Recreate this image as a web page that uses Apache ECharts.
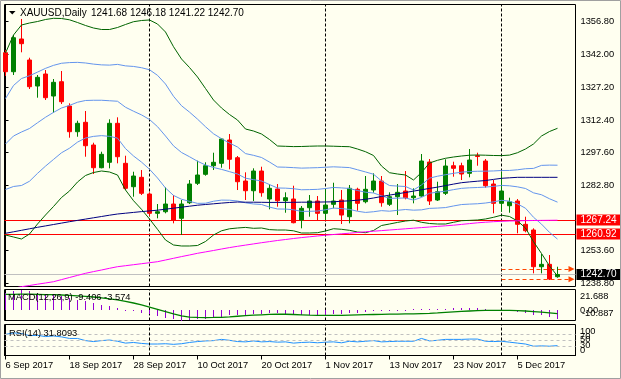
<!DOCTYPE html>
<html><head><meta charset="utf-8">
<script src="https://cdn.jsdelivr.net/npm/echarts@6/dist/echarts.min.js"></script>
<style>html,body{margin:0;padding:0;background:#FFFFF0}#c{width:621px;height:379px}</style>
</head><body><div id="c"></div><script>
const symbolName = 'XAUUSD,Daily';
const dates = ['6 Sep 2017','7 Sep 2017','8 Sep 2017','11 Sep 2017','12 Sep 2017','13 Sep 2017','14 Sep 2017','15 Sep 2017','18 Sep 2017','19 Sep 2017','20 Sep 2017','21 Sep 2017','22 Sep 2017','25 Sep 2017','26 Sep 2017','27 Sep 2017','28 Sep 2017','29 Sep 2017',
'2 Oct 2017','3 Oct 2017','4 Oct 2017','5 Oct 2017','6 Oct 2017','9 Oct 2017','10 Oct 2017','11 Oct 2017','12 Oct 2017','13 Oct 2017','16 Oct 2017','17 Oct 2017','18 Oct 2017','19 Oct 2017','20 Oct 2017','23 Oct 2017','24 Oct 2017','25 Oct 2017','26 Oct 2017','27 Oct 2017','30 Oct 2017','31 Oct 2017',
'1 Nov 2017','2 Nov 2017','3 Nov 2017','6 Nov 2017','7 Nov 2017','8 Nov 2017','9 Nov 2017','10 Nov 2017','13 Nov 2017','14 Nov 2017','15 Nov 2017','16 Nov 2017','17 Nov 2017','20 Nov 2017','21 Nov 2017','22 Nov 2017','23 Nov 2017','24 Nov 2017','27 Nov 2017','28 Nov 2017','29 Nov 2017','30 Nov 2017',
'1 Dec 2017','4 Dec 2017','5 Dec 2017','6 Dec 2017','7 Dec 2017','8 Dec 2017','11 Dec 2017','12 Dec 2017'];
const open = [1342.73,1334.15,1348.91,1339.43,1327.70,1333.12,1323.19,1329.64,1318.68,1307.09,
1311.33,1301.09,1290.85,1293.29,1310.88,1292.83,1282.28,1286.52,1278.99,1270.28,
1271.00,1274.47,1268.02,1275.06,1283.81,1287.87,1291.75,1292.83,1303.34,1295.36,
1284.85,1280.47,1289.36,1276.73,1281.24,1275.96,1276.73,1267.26,1272.80,1275.83,
1270.28,1274.34,1276.28,1268.75,1281.11,1275.51,1280.79,1284.85,1274.34,1277.77,
1280.34,1277.32,1278.08,1293.42,1276.28,1279.30,1291.75,1291.75,1288.32,1296.26,
1293.87,1283.50,1274.79,1273.71,1275.83,1265.32,1262.75,1246.19,1247.27,1241.68];
const high = [1343.94,1350.71,1357.93,1340.47,1332.67,1334.92,1330.86,1334.47,1319.90,1312.05,
1316.43,1302.13,1298.07,1312.68,1313.58,1296.26,1289.04,1289.81,1279.75,1274.47,
1282.01,1278.53,1276.28,1285.30,1294.01,1293.29,1297.62,1304.11,1306.05,1296.13,
1288.77,1290.58,1291.30,1283.36,1283.50,1279.75,1282.73,1273.57,1278.53,1278.08,
1281.11,1284.08,1280.79,1283.05,1281.83,1287.11,1288.32,1287.11,1279.75,1283.50,
1289.36,1281.56,1297.03,1294.77,1284.53,1294.64,1293.56,1293.10,1299.28,1297.62,
1294.77,1285.30,1289.04,1277.32,1276.73,1268.75,1263.51,1251.92,1251.47,1246.18];
const low = [1332.22,1332.67,1342.91,1326.35,1322.43,1321.39,1315.66,1319.58,1304.38,1304.83,
1295.81,1288.01,1290.58,1290.58,1292.83,1280.79,1277.77,1278.53,1269.06,1268.02,
1270.28,1265.77,1260.49,1274.47,1283.05,1287.24,1289.81,1290.85,1290.13,1280.79,
1276.28,1275.83,1277.77,1272.08,1273.26,1270.55,1265.77,1263.51,1268.75,1267.26,
1267.26,1272.53,1265.45,1265.77,1271.45,1274.79,1279.57,1273.26,1273.57,1269.51,
1276.59,1274.79,1277.77,1274.02,1275.83,1278.53,1286.79,1285.30,1286.52,1291.75,
1281.83,1270.28,1271.00,1270.55,1261.26,1261.71,1243.21,1243.21,1240.19,1241.22];
const close = [1334.15,1349.49,1346.79,1327.39,1331.63,1322.43,1329.37,1320.62,1307.09,1310.88,
1300.77,1290.85,1296.89,1310.88,1295.81,1281.56,1287.11,1279.30,1270.28,1271.00,
1274.47,1267.26,1274.47,1283.50,1287.56,1291.75,1293.29,1303.80,1294.64,1284.53,
1280.47,1289.36,1279.57,1281.56,1275.96,1277.32,1266.04,1272.53,1275.83,1270.28,
1274.02,1275.83,1269.51,1281.56,1274.79,1281.11,1284.85,1275.06,1277.77,1279.75,
1277.32,1278.08,1293.87,1275.83,1280.02,1291.62,1290.58,1288.01,1294.32,1295.90,
1282.73,1274.79,1280.34,1275.51,1265.32,1262.43,1246.19,1247.27,1240.64,1242.70];
const bbUpper2 = [1342.59,1350.71,1355.22,1356.12,1356.80,1357.70,1358.24,1358.15,1357.57,1356.35,
1355.00,1353.87,1353.19,1353.19,1354.09,1355.45,1356.71,1357.25,1357.48,1355.67,
1352.06,1345.43,1339.89,1336.05,1331.77,1326.58,1321.39,1317.78,1314.85,1312.37,
1308.31,1307.41,1306.06,1303.57,1300.64,1300.51,1300.37,1300.42,1300.55,1300.64,
1300.64,1300.55,1300.42,1300.33,1299.29,1298.07,1296.36,1291.62,1288.60,1288.01,
1287.56,1285.31,1288.69,1292.97,1294.19,1295.10,1295.68,1296.13,1296.49,1296.58,
1296.49,1296.36,1296.31,1296.54,1297.62,1299.29,1301.55,1305.15,1307.18,1308.63];
const bbLower2 = [1260.50,1259.60,1258.69,1260.95,1265.46,1269.52,1273.35,1277.41,1280.35,1284.40,
1287.34,1288.69,1289.37,1288.92,1287.56,1280.80,1275.97,1272.09,1267.72,1263.07,
1258.24,1255.99,1255.54,1255.54,1255.76,1257.57,1260.50,1262.39,1263.30,1263.66,
1263.93,1263.52,1263.66,1262.93,1262.75,1262.75,1262.39,1261.40,1261.40,1261.54,
1262.30,1263.34,1263.07,1262.62,1261.85,1261.54,1262.53,1264.78,1265.46,1266.18,
1266.81,1267.17,1266.23,1265.69,1265.46,1265.46,1266.23,1266.95,1267.09,1267.26,
1267.72,1268.48,1269.43,1268.84,1266.81,1263.66,1257.48,1252.15,1246.52,1242.01];
const bbUpper1 = [1322.07,1327.94,1331.09,1332.33,1333.97,1335.66,1337.02,1337.97,1338.27,1338.37,
1338.09,1337.58,1337.24,1337.13,1337.46,1336.79,1336.53,1335.96,1335.04,1332.52,
1328.61,1323.07,1318.81,1315.93,1312.77,1309.33,1306.17,1303.94,1301.97,1300.20,
1297.22,1296.44,1295.46,1293.41,1291.17,1291.07,1290.88,1290.67,1290.77,1290.87,
1291.06,1291.25,1291.09,1290.91,1289.93,1288.94,1287.91,1284.91,1282.82,1282.56,
1282.38,1280.78,1283.08,1286.15,1287.01,1287.69,1288.32,1288.84,1289.14,1289.25,
1289.30,1289.39,1289.59,1289.62,1289.92,1290.39,1290.54,1291.90,1292.02,1291.98];
const bbMid = [1301.55,1305.16,1306.96,1308.54,1311.13,1313.61,1315.80,1317.78,1318.96,1320.38,
1321.17,1321.28,1321.28,1321.06,1320.83,1318.13,1316.34,1314.67,1312.60,1309.37,
1305.15,1300.71,1297.72,1295.80,1293.77,1292.08,1290.95,1290.09,1289.08,1288.02,
1286.12,1285.47,1284.86,1283.25,1281.70,1281.63,1281.38,1280.91,1280.98,1281.09,
1281.47,1281.95,1281.75,1281.48,1280.57,1279.81,1279.45,1278.20,1277.03,1277.10,
1277.19,1276.24,1277.46,1279.33,1279.83,1280.28,1280.96,1281.54,1281.79,1281.92,
1282.11,1282.42,1282.87,1282.69,1282.22,1281.48,1279.52,1278.65,1276.85,1275.32];
const bbLower1 = [1281.03,1282.38,1282.83,1284.75,1288.29,1291.56,1294.58,1297.59,1299.65,1302.39,
1304.25,1304.98,1305.32,1304.99,1304.20,1299.47,1296.15,1293.38,1290.16,1286.22,
1281.69,1278.35,1276.63,1275.67,1274.77,1274.83,1275.73,1276.24,1276.19,1275.84,
1275.02,1274.50,1274.26,1273.09,1272.23,1272.19,1271.88,1271.15,1271.19,1271.31,
1271.88,1272.65,1272.41,1272.05,1271.21,1270.68,1270.99,1271.49,1271.24,1271.64,
1272.00,1271.70,1271.84,1272.51,1272.65,1272.87,1273.60,1274.24,1274.44,1274.59,
1274.92,1275.45,1276.15,1275.76,1274.52,1272.57,1268.50,1265.40,1261.68,1258.66];
const maSlow = [1261.27,1261.94,1262.62,1263.30,1263.97,1264.60,1265.23,1265.87,1266.50,1267.09,
1267.67,1268.26,1268.84,1269.43,1269.97,1270.33,1270.69,1271.05,1271.37,1271.69,
1272.14,1272.59,1273.04,1273.49,1273.94,1274.26,1274.57,1274.89,1275.16,1275.38,
1275.30,1275.30,1275.25,1275.20,1275.20,1275.20,1275.25,1275.30,1275.30,1275.35,
1275.40,1275.47,1275.74,1275.92,1276.20,1276.60,1277.19,1277.86,1278.50,1279.08,
1279.67,1280.30,1280.89,1281.52,1282.10,1282.78,1283.46,1284.09,1284.45,1284.77,
1285.08,1285.58,1286.07,1286.30,1286.52,1286.52,1286.52,1286.52,1286.52,1286.52];
const maLong = [1235.69,1236.46,1237.18,1237.72,1238.31,1238.85,1239.43,1240.38,1241.33,1242.28,
1243.22,1243.99,1244.71,1245.48,1246.20,1246.65,1247.10,1247.55,1248.00,1248.46,
1249.22,1249.99,1250.76,1251.48,1252.24,1252.88,1253.51,1254.18,1254.82,1255.40,
1255.94,1256.48,1257.02,1257.52,1258.02,1258.47,1258.92,1259.33,1259.69,1260.05,
1260.41,1260.72,1261.04,1261.31,1261.63,1261.94,1262.21,1262.48,1262.75,1263.02,
1263.30,1263.57,1263.84,1264.11,1264.38,1264.65,1264.92,1265.28,1265.64,1266.00,
1266.27,1266.50,1266.68,1266.81,1266.90,1266.99,1267.04,1267.09,1267.13,1267.17];
const macdMain = [18.0,20.0,21.688,20.0,18.5,17.0,15.5,14.5,12.5,11.0,
9.5,7.5,5.5,4.5,2.5,0.5,-0.8,-2.5,-4.5,-6.5,
-8.0,-9.5,-10.887,-10.5,-9.8,-9.0,-8.2,-6.8,-5.6,-5.0,
-4.6,-3.6,-3.6,-3.4,-3.5,-3.6,-4.5,-4.6,-4.6,-4.9,
-4.8,-4.2,-4.4,-3.0,-2.6,-2.0,-1.4,-1.4,-1.0,0.3,
0.6,0.8,1.2,0.8,1.0,1.5,1.8,1.8,2.0,2.2,
1.6,0.6,0.5,0.1,-2.0,-3.4,-4.6,-5.3,-7.6,-9.406];
const macdSignal = [16.5,16.6,16.8,16.8,16.6,16.4,16.2,15.9,15.5,15.0,
14.5,13.8,12.9,11.9,10.8,9.2,7.5,5.6,3.2,0.8,
-1.6,-4.0,-6.0,-7.3,-7.7,-7.8,-7.7,-7.5,-7.0,-6.4,
-5.8,-5.3,-4.9,-4.5,-4.3,-4.3,-4.6,-4.9,-5.2,-5.4,
-5.6,-5.5,-5.4,-5.2,-5.0,-4.8,-4.6,-4.4,-4.2,-4.1,
-4.0,-3.9,-3.6,-3.3,-2.9,-2.4,-1.9,-1.4,-0.9,-0.5,
-0.3,-0.3,-0.3,-0.3,-0.5,-0.9,-1.5,-2.1,-2.8,-3.574];
const rsi = [68,73,71,64,65,61,63,60,55,55,
48,45,48,50,46,40,42,39,37,37,
38,36,38,42,45,47,48,52,49,45,
44,47,44,45,43,44,40,42,43,41,
43,44,41,46,44,46,48,44,45,46,
46,46,55,47,49,52,52,52,53,53,
46,45,46,43,40,37,30,31,30,31.8093];
const priceTickValues = [1238.80,1253.60,1282.80,1297.60,1312.40,1327.20,1342.00,1356.80];
const dateTickIndex = [0,8,16,24,32,40,48,56,64];
const monthSeparators = [18,40,62];
const hLevels = [1267.24,1260.92];
const bidPrice = 1242.70;
const arrowLevels = [1245.20,1240.50];
const arrowFrom = 62;
const macdRange = [-10.887,21.688];
const macdLabels = ['21.688','0.00','-10.887'];
const rsiLevels = [30,50,70];
const rsiLabels = ['100','70','50','30','0'];

const FONT = 'Tahoma,"Liberation Sans",Arial,sans-serif';
const FS = 9.3;
const X_MIN = -0.125, X_MAX = 71.25;
const Y_MIN = 1237.27, Y_MAX = 1364.47;
const pts = a => a.map((v,i)=>[i,v]);
const last = open.length-1;

function lineSeries(data,color,name){
  return {type:'line',name,xAxisIndex:0,yAxisIndex:0,data:pts(data),showSymbol:false,symbol:'none',
    lineStyle:{color,width:1},z:3,silent:true,clip:true};
}

const chart = echarts.init(document.getElementById('c'));
const option = {
  animation:false,
  backgroundColor:'#FFFFF0',
  textStyle:{fontFamily:FONT},
  grid:[
    {left:4.5,top:4.5,width:571,height:282,show:true,borderColor:'#000',borderWidth:1,backgroundColor:'#FFFFF0'},
    {left:4.5,top:289.5,width:571,height:31,show:true,borderColor:'#000',borderWidth:1},
    {left:4.5,top:324.5,width:571,height:31,show:true,borderColor:'#000',borderWidth:1}
  ],
  xAxis:[0,1,2].map(g=>({type:'value',gridIndex:g,min:X_MIN,max:X_MAX,show:g===2,
    splitLine:{show:false},
    axisLine:{show:true,lineStyle:{color:'#000'}},
    axisTick:{show:true,customValues:dateTickIndex,length:4,lineStyle:{color:'#000'}},
    axisLabel:{show:true,customValues:dateTickIndex,formatter:v=>dates[Math.round(v)],align:'left',
      margin:5,color:'#000',fontSize:FS,fontFamily:FONT}})),
  yAxis:[
    {type:'value',gridIndex:0,position:'right',min:Y_MIN,max:Y_MAX,splitLine:{show:false},
      axisLine:{show:true,lineStyle:{color:'#000'}},
      axisTick:{show:true,customValues:priceTickValues,length:3,lineStyle:{color:'#000'}},
      axisLabel:{customValues:priceTickValues,formatter:v=>v.toFixed(2),color:'#000',fontSize:FS,fontFamily:FONT,margin:5}},
    {type:'value',gridIndex:1,position:'right',min:macdRange[0],max:macdRange[1],splitLine:{show:false},
      axisLine:{show:true,lineStyle:{color:'#000'}},axisTick:{show:false},axisLabel:{show:false}},
    {type:'value',gridIndex:2,position:'right',min:0,max:100,splitLine:{show:false},
      axisLine:{show:true,lineStyle:{color:'#000'}},axisTick:{show:false},axisLabel:{show:false}}
  ],
  series:[
    {type:'candlestick',xAxisIndex:0,yAxisIndex:0,
      data:open.map((o,i)=>[i,o,close[i],low[i],high[i]]),
      encode:{x:0,y:[1,2,3,4]},barWidth:4,z:2,silent:true,
      itemStyle:{color:'#008000',color0:'#FF0000',borderColor:'#008000',borderColor0:'#FF0000',borderWidth:1},
      markLine:{symbol:['none','none'],silent:true,z:1,
        data:[
          ...monthSeparators.map(v=>({xAxis:v,lineStyle:{color:'#000',type:[3,2],width:1},label:{show:false}})),
          {yAxis:bidPrice,lineStyle:{color:'#C0C0C0',type:'solid',width:1},
            label:{show:true,position:'end',distance:1,formatter:p=>p.value.toFixed(2),color:'#fff',backgroundColor:'#000',padding:[1,4,0,4],fontSize:FS+0.7,fontFamily:FONT}},
          ...hLevels.map(v=>({yAxis:v,lineStyle:{color:'#FF0000',type:'solid',width:1},
            label:{show:true,position:'end',distance:1,formatter:p=>p.value.toFixed(2),color:'#fff',backgroundColor:'#FF0000',padding:[1,4,0,4],fontSize:FS+0.7,fontFamily:FONT}})),
          ...arrowLevels.map(v=>[
            {coord:[arrowFrom,v],symbol:'none'},
            {coord:[70.75,v],symbol:'triangle',symbolSize:[6,6],symbolRotate:-90,
              lineStyle:{color:'#FF4500',type:[4,3],width:1},itemStyle:{color:'#FF4500'},label:{show:false}}
          ])
        ]}
    },
    lineSeries(bbUpper2,'#006400','bbU2'),
    lineSeries(bbLower2,'#006400','bbL2'),
    lineSeries(bbUpper1,'#6495ED','bbU1'),
    lineSeries(bbMid,'#6495ED','bbM'),
    lineSeries(bbLower1,'#6495ED','bbL1'),
    lineSeries(maSlow,'#000080','ma1'),
    lineSeries(maLong,'#FF00FF','ma2'),
    {type:'custom',xAxisIndex:1,yAxisIndex:1,data:pts(macdMain),silent:true,clip:false,z:5,
      encode:{x:0,y:1},
      renderItem:(params,api)=>{
        const p0 = api.coord([api.value(0),0]), p1 = api.coord([api.value(0),api.value(1)]);
        const px = Math.round(p0[0]-0.5);
        const y0 = Math.round(Math.min(p0[1],p1[1])), y1 = Math.round(Math.max(p0[1],p1[1]));
        return {type:'rect',shape:{x:px,y:y0,width:1,height:Math.max(1,y1-y0)},
          style:{fill:'#9400D3'}};
      },
      markLine:{symbol:['none','none'],silent:true,label:{show:false},
        data:monthSeparators.map(v=>({xAxis:v,lineStyle:{color:'#000',type:[3,2],width:1}}))}},
    {type:'line',xAxisIndex:1,yAxisIndex:1,data:pts(macdSignal),showSymbol:false,symbol:'none',silent:true,z:6,
      lineStyle:{color:'#008000',width:1.3}},
    {type:'line',xAxisIndex:2,yAxisIndex:2,data:pts(rsi),showSymbol:false,symbol:'none',silent:true,
      lineStyle:{color:'#1E90FF',width:1},
      markLine:{symbol:['none','none'],silent:true,label:{show:false},
        data:[...rsiLevels.map(v=>({yAxis:v,lineStyle:{color:'#C0C0C0',type:[3,3],width:1}})),
              ...monthSeparators.map(v=>({xAxis:v,lineStyle:{color:'#000',type:[3,2],width:1}}))]}}
  ],
  graphic:[
    {type:'rect',shape:{x:0.5,y:0.5,width:620,height:378},style:{fill:'none',stroke:'#A0A0A0',lineWidth:1},silent:true,z:100},
    {type:'polygon',shape:{points:[[9,11],[15.5,11],[12.25,14.5]]},style:{fill:'#000'},z:100},
    {type:'text',x:20,y:13,style:{text:symbolName,fill:'#000',font:`${FS+0.7}px ${FONT}`,verticalAlign:'middle'},z:100},
    {type:'text',x:91,y:13,style:{text:[open[last],high[last],low[last],close[last]].map(v=>v.toFixed(2)).join(' '),fill:'#000',font:`${FS+0.7}px ${FONT}`,verticalAlign:'middle'},z:100},
    {type:'text',x:8,y:297,style:{text:`MACD(12,26,9) ${macdMain[last].toFixed(3)} ${macdSignal[last].toFixed(3)}`,fill:'#000',font:`${FS}px ${FONT}`,verticalAlign:'middle'},z:100},
    {type:'text',x:9,y:333,style:{text:`RSI(14) ${rsi[last].toFixed(4)}`,fill:'#000',font:`${FS}px ${FONT}`,verticalAlign:'middle'},z:100},
    {type:'text',x:580,y:296,style:{text:macdLabels[0],fill:'#000',font:`${FS}px ${FONT}`,verticalAlign:'middle'},z:100},
    {type:'text',x:580,y:310.5,style:{text:macdLabels[1],fill:'#000',font:`${FS}px ${FONT}`,verticalAlign:'middle'},z:100},
    {type:'text',x:582,y:313.5,style:{text:macdLabels[2],fill:'#000',font:`${FS}px ${FONT}`,verticalAlign:'middle'},z:100},
    {type:'text',x:580,y:331,style:{text:rsiLabels[0],fill:'#000',font:`${FS}px ${FONT}`,verticalAlign:'middle'},z:100},
    {type:'text',x:580,y:336.5,style:{text:rsiLabels[1],fill:'#000',font:`${FS}px ${FONT}`,verticalAlign:'middle'},z:100},
    {type:'text',x:580,y:339.5,style:{text:rsiLabels[2],fill:'#000',font:`${FS}px ${FONT}`,verticalAlign:'middle'},z:100},
    {type:'text',x:580,y:345.5,style:{text:rsiLabels[3],fill:'#000',font:`${FS}px ${FONT}`,verticalAlign:'middle'},z:100},
    {type:'text',x:580,y:350,style:{text:rsiLabels[4],fill:'#000',font:`${FS}px ${FONT}`,verticalAlign:'middle'},z:100}
  ]
};
chart.setOption(option);
</script></body></html>
